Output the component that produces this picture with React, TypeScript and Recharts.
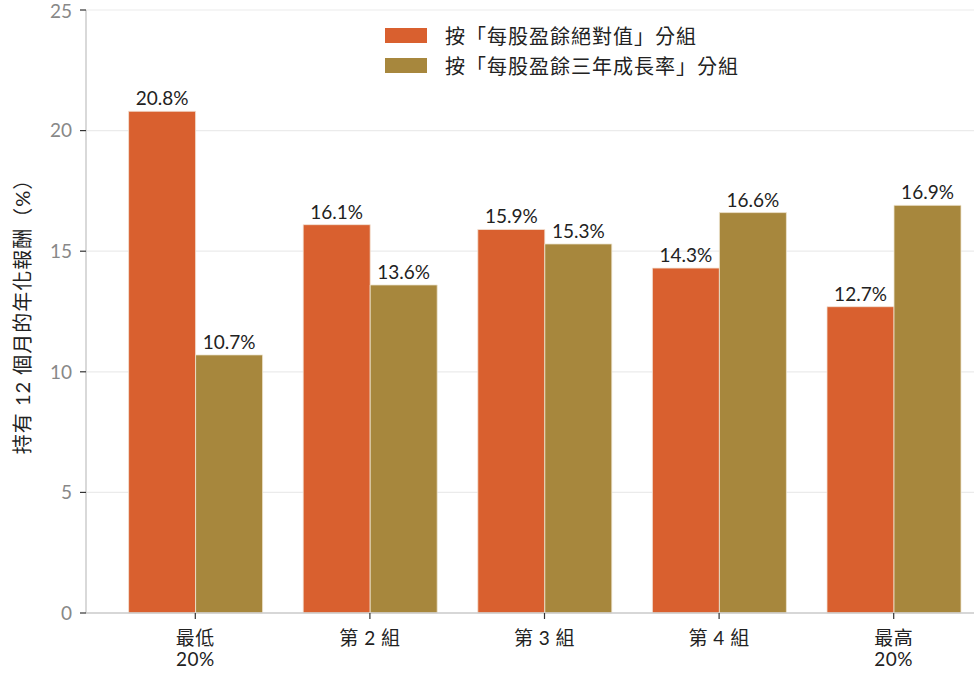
import { BarChart, Bar, XAxis, YAxis, CartesianGrid, Legend, LabelList } from 'recharts'

const categories = ['最低\n20%', '第 2 組', '第 3 組', '第 4 組', '最高\n20%']
const absoluteEps = [20.8, 16.1, 15.9, 14.3, 12.7]
const epsGrowth = [10.7, 13.6, 15.3, 16.6, 16.9]
const yTicks = [0, 5, 10, 15, 20, 25]

const seriesNames = ['按「每股盈餘絕對值」分組', '按「每股盈餘三年成長率」分組']
const colors = ['#D9602F', '#A7873D']

const FONT = 'Lato, "Noto Sans CJK TC", sans-serif'

const chartData = categories.map((name, i) => ({
  name,
  absolute: absoluteEps[i],
  growth: epsGrowth[i],
}))

function formatPct(value: number): string {
  return `${value.toFixed(1)}%`
}

// multi-line category tick
function CategoryTick(props: any) {
  const { x, y, payload } = props
  const lines = String(payload.value).split('\n')
  return (
    <g transform={`translate(${x},${y})`}>
      {lines.map((line: string, i: number) => (
        <text
          key={i}
          x={0}
          y={24 + i * 21}
          textAnchor="middle"
          fill="#222"
          fontSize={19}
          fontFamily={FONT}
          letterSpacing={0.5}
        >
          {line}
        </text>
      ))}
    </g>
  )
}

function LegendContent() {
  return (
    <div style={{ fontFamily: FONT, fontSize: 20, letterSpacing: 1, color: '#222' }}>
      {seriesNames.map((name, i) => (
        <div key={name} style={{ display: 'flex', alignItems: 'center', height: 30 }}>
          <span
            style={{
              display: 'inline-block',
              width: 42,
              height: 15,
              background: colors[i],
              marginRight: 18,
            }}
          />
          <span>{name}</span>
        </div>
      ))}
    </div>
  )
}

export default function App() {
  return (
    <div
      style={{
        position: 'absolute',
        left: 0,
        top: 0,
        width: 974,
        height: 678,
        overflow: 'hidden',
        background: '#fff',
      }}
    >
      <BarChart
        width={1003}
        height={678}
        data={chartData}
        margin={{ top: 10, right: 0, left: 0, bottom: 0 }}
        barCategoryGap="11.8%"
        barGap={0}
      >
        <CartesianGrid vertical={false} stroke="#ebebeb" strokeWidth={1.2} />
        <XAxis
          dataKey="name"
          height={65}
          padding={{ left: 22, right: 22 }}
          axisLine={{ stroke: '#cccccc', strokeWidth: 1.5 }}
          tickLine={{ stroke: '#333', strokeWidth: 1.2 }}
          tickSize={6}
          tick={<CategoryTick />}
          interval={0}
        />
        <YAxis
          width={86}
          domain={[0, 25]}
          ticks={yTicks}
          axisLine={{ stroke: '#cccccc', strokeWidth: 1.5 }}
          tickLine={{ stroke: '#333', strokeWidth: 1.2 }}
          tickSize={6}
          tickMargin={8}
          tick={{ fill: '#888', fontSize: 19, fontFamily: FONT }}
          label={{
            value: '持有 12 個月的年化報酬（%）',
            angle: -90,
            position: 'insideLeft',
            offset: 23,
            textAnchor: 'middle',
            fill: '#222',
            fontSize: 20,
            letterSpacing: 1,
            fontFamily: FONT,
          }}
        />
        <Legend
          layout="vertical"
          verticalAlign="middle"
          align="center"
          content={<LegendContent />}
          wrapperStyle={{ top: 20, left: 385, width: 440 }}
        />
        <Bar
          dataKey="absolute"
          name={seriesNames[0]}
          fill={colors[0]}
          stroke="#f3e3d6"
          strokeWidth={0.8}
          isAnimationActive={false}
        >
          <LabelList
            dataKey="absolute"
            position="top"
            offset={6}
            formatter={(v: any) => formatPct(Number(v))}
            fill="#222"
            fontSize={19}
            fontFamily={FONT}
          />
        </Bar>
        <Bar
          dataKey="growth"
          name={seriesNames[1]}
          fill={colors[1]}
          stroke="#efe6d2"
          strokeWidth={0.8}
          isAnimationActive={false}
        >
          <LabelList
            dataKey="growth"
            position="top"
            offset={6}
            formatter={(v: any) => formatPct(Number(v))}
            fill="#222"
            fontSize={19}
            fontFamily={FONT}
          />
        </Bar>
      </BarChart>
    </div>
  )
}
